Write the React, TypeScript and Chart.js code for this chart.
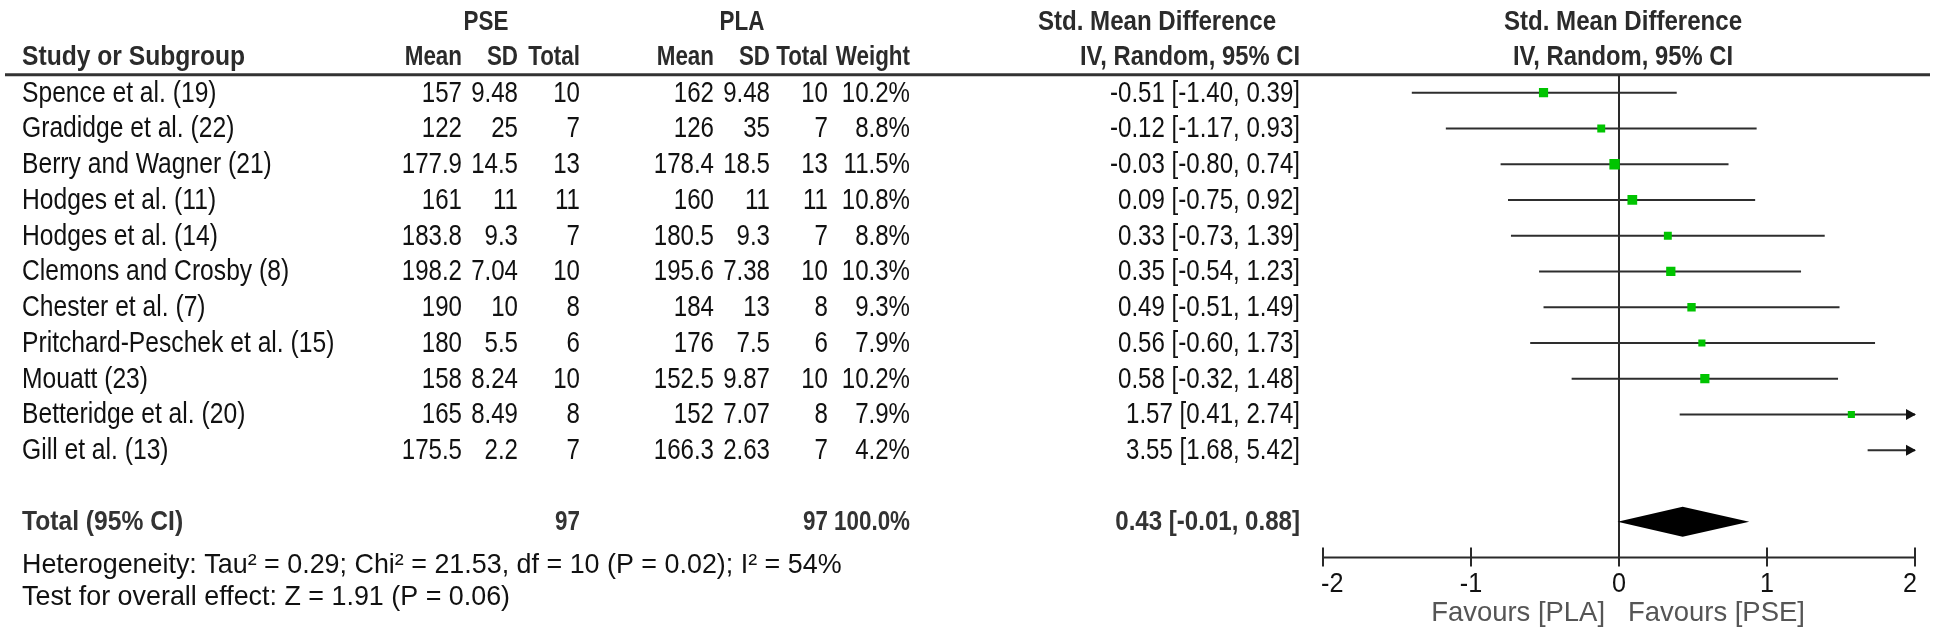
import React, { useEffect, useRef } from "react";
import { Chart, registerables } from "chart.js";

Chart.register(...registerables);

const studies = [
  "Spence et al. (19)",
  "Gradidge et al. (22)",
  "Berry and Wagner (21)",
  "Hodges et al. (11)",
  "Hodges et al. (14)",
  "Clemons and Crosby (8)",
  "Chester et al. (7)",
  "Pritchard-Peschek et al. (15)",
  "Mouatt (23)",
  "Betteridge et al. (20)",
  "Gill et al. (13)",
];
const pseMean = [157, 122, 177.9, 161, 183.8, 198.2, 190, 180, 158, 165, 175.5];
const pseSD = [9.48, 25, 14.5, 11, 9.3, 7.04, 10, 5.5, 8.24, 8.49, 2.2];
const pseTotal = [10, 7, 13, 11, 7, 10, 8, 6, 10, 8, 7];
const plaMean = [162, 126, 178.4, 160, 180.5, 195.6, 184, 176, 152.5, 152, 166.3];
const plaSD = [9.48, 35, 18.5, 11, 9.3, 7.38, 13, 7.5, 9.87, 7.07, 2.63];
const plaTotal = [10, 7, 13, 11, 7, 10, 8, 6, 10, 8, 7];
const weights = [10.2, 8.8, 11.5, 10.8, 8.8, 10.3, 9.3, 7.9, 10.2, 7.9, 4.2];
const smd = [-0.51, -0.12, -0.03, 0.09, 0.33, 0.35, 0.49, 0.56, 0.58, 1.57, 3.55];
const ciLow = [-1.4, -1.17, -0.8, -0.75, -0.73, -0.54, -0.51, -0.6, -0.32, 0.41, 1.68];
const ciHigh = [0.39, 0.93, 0.74, 0.92, 1.39, 1.23, 1.49, 1.73, 1.48, 2.74, 5.42];

const totalPSE = 97;
const totalPLA = 97;
const totalWeight = 100.0;
const totalSMD = 0.43;
const totalLow = -0.01;
const totalHigh = 0.88;

const xTicks = [-2, -1, 0, 1, 2];
const xMin = -2;
const xMax = 2;

const heterogeneityText =
  "Heterogeneity: Tau\u00B2 = 0.29; Chi\u00B2 = 21.53, df = 10 (P = 0.02); I\u00B2 = 54%";
const overallText = "Test for overall effect: Z = 1.91 (P = 0.06)";
const favoursLeft = "Favours [PLA]";
const favoursRight = "Favours [PSE]";

const FONT = '"Liberation Sans", Arial, sans-serif';
const FS = 29;
const SX = 0.83;
const BFS = 28;
const BSX = 0.8;

function fmtCI(m: number, l: number, h: number) {
  return `${m.toFixed(2)} [${l.toFixed(2)}, ${h.toFixed(2)}]`;
}

function txt(
  ctx: CanvasRenderingContext2D,
  s: string,
  x: number,
  y: number,
  align: CanvasTextAlign,
  bold = false,
  color = "#111",
  size = bold ? BFS : FS,
  sx = bold ? BSX : SX
) {
  ctx.save();
  ctx.translate(x, y);
  ctx.scale(sx, 1);
  ctx.font = `${bold ? "bold " : ""}${size}px ${FONT}`;
  ctx.fillStyle = color;
  ctx.textAlign = align;
  ctx.textBaseline = "middle";
  ctx.fillText(s, 0, 0);
  ctx.restore();
}

const forestPlugin = {
  id: "forest",
  beforeDatasetsDraw(chart: any) {
    const ctx: CanvasRenderingContext2D = chart.ctx;
    const xs = chart.scales.x;
    const ys = chart.scales.y;
    const headerY = ys.getPixelForValue(-0.5);
    const axisY = ys.getPixelForValue(13);
    const x0 = xs.getPixelForValue(0);

    ctx.save();
    ctx.strokeStyle = "#333";
    ctx.lineWidth = 3;
    ctx.beginPath();
    ctx.moveTo(5, headerY);
    ctx.lineTo(1930, headerY);
    ctx.stroke();

    ctx.strokeStyle = "#2a2a2a";
    ctx.lineWidth = 2;
    ctx.beginPath();
    ctx.moveTo(x0, headerY);
    ctx.lineTo(x0, axisY);
    ctx.stroke();

    ctx.strokeStyle = "#2e2e2e";
    ctx.fillStyle = "#111";
    ctx.lineWidth = 2;
    for (let i = 0; i < studies.length; i++) {
      const y = ys.getPixelForValue(i);
      const l = Math.max(ciLow[i], xMin);
      const h = Math.min(ciHigh[i], xMax);
      const pl = xs.getPixelForValue(l);
      const ph = xs.getPixelForValue(h);
      ctx.beginPath();
      ctx.moveTo(pl, y);
      ctx.lineTo(ph, y);
      ctx.stroke();
      if (ciHigh[i] > xMax) {
        ctx.beginPath();
        ctx.moveTo(ph + 1, y);
        ctx.lineTo(ph - 9, y - 5.5);
        ctx.lineTo(ph - 9, y + 5.5);
        ctx.closePath();
        ctx.fill();
      }
      if (ciLow[i] < xMin) {
        ctx.beginPath();
        ctx.moveTo(pl - 1, y);
        ctx.lineTo(pl + 9, y - 5.5);
        ctx.lineTo(pl + 9, y + 5.5);
        ctx.closePath();
        ctx.fill();
      }
    }

    const dy = ys.getPixelForValue(12);
    const dh = 15;
    ctx.fillStyle = "#000";
    ctx.beginPath();
    ctx.moveTo(xs.getPixelForValue(totalLow), dy);
    ctx.lineTo(xs.getPixelForValue(totalSMD), dy - dh);
    ctx.lineTo(xs.getPixelForValue(totalHigh), dy);
    ctx.lineTo(xs.getPixelForValue(totalSMD), dy + dh);
    ctx.closePath();
    ctx.fill();

    ctx.strokeStyle = "#2a2a2a";
    ctx.lineWidth = 2;
    ctx.beginPath();
    ctx.moveTo(xs.getPixelForValue(xMin), axisY);
    ctx.lineTo(xs.getPixelForValue(xMax), axisY);
    ctx.stroke();
    for (const t of xTicks) {
      const px = xs.getPixelForValue(t);
      ctx.beginPath();
      ctx.moveTo(px, axisY - 10);
      ctx.lineTo(px, axisY + 9);
      ctx.stroke();
    }
    ctx.restore();
  },
  afterDatasetsDraw(chart: any) {
    const ctx: CanvasRenderingContext2D = chart.ctx;
    const xs = chart.scales.x;
    const ys = chart.scales.y;
    const axisY = ys.getPixelForValue(13);
    const x0 = xs.getPixelForValue(0);

    const cName = 22;
    const cPseMean = 462;
    const cPseSD = 518;
    const cPseTot = 580;
    const cPlaMean = 714;
    const cPlaSD = 770;
    const cPlaTot = 828;
    const cWeight = 910;
    const cCI = 1300;

    const hdr = "#2b2b2b";
    txt(ctx, "PSE", 486, 22, "center", true, hdr);
    txt(ctx, "PLA", 742, 22, "center", true, hdr);
    txt(ctx, "Std. Mean Difference", 1157, 22, "center", true, hdr, BFS, 0.86);
    txt(ctx, "Std. Mean Difference", x0 + 4, 22, "center", true, hdr, BFS, 0.86);
    const h2 = 57;
    txt(ctx, "Study or Subgroup", cName, h2, "left", true, hdr, BFS, 0.88);
    txt(ctx, "Mean", cPseMean, h2, "right", true, hdr);
    txt(ctx, "SD", cPseSD, h2, "right", true, hdr);
    txt(ctx, "Total", cPseTot, h2, "right", true, hdr);
    txt(ctx, "Mean", cPlaMean, h2, "right", true, hdr);
    txt(ctx, "SD", cPlaSD, h2, "right", true, hdr);
    txt(ctx, "Total", cPlaTot, h2, "right", true, hdr);
    txt(ctx, "Weight", cWeight, h2, "right", true, hdr);
    txt(ctx, "IV, Random, 95% CI", cCI, h2, "right", true, hdr, BFS, 0.85);
    txt(ctx, "IV, Random, 95% CI", x0 + 4, h2, "center", true, hdr, BFS, 0.85);

    for (let i = 0; i < studies.length; i++) {
      const y = ys.getPixelForValue(i) + 1;
      txt(ctx, studies[i], cName, y, "left", false, "#111", FS, 0.85);
      txt(ctx, String(pseMean[i]), cPseMean, y, "right");
      txt(ctx, String(pseSD[i]), cPseSD, y, "right");
      txt(ctx, String(pseTotal[i]), cPseTot, y, "right");
      txt(ctx, String(plaMean[i]), cPlaMean, y, "right");
      txt(ctx, String(plaSD[i]), cPlaSD, y, "right");
      txt(ctx, String(plaTotal[i]), cPlaTot, y, "right");
      txt(ctx, weights[i].toFixed(1) + "%", cWeight, y, "right");
      txt(ctx, fmtCI(smd[i], ciLow[i], ciHigh[i]), cCI, y, "right");
    }

    const ty = ys.getPixelForValue(12) + 1;
    const tc = "#333";
    txt(ctx, "Total (95% CI)", cName, ty, "left", true, tc, BFS, 0.88);
    txt(ctx, String(totalPSE), cPseTot, ty, "right", true, tc);
    txt(ctx, String(totalPLA), cPlaTot, ty, "right", true, tc);
    txt(ctx, totalWeight.toFixed(1) + "%", cWeight, ty, "right", true, tc);
    txt(ctx, fmtCI(totalSMD, totalLow, totalHigh), cCI, ty, "right", true, tc, BFS, 0.86);

    txt(ctx, heterogeneityText, cName, 565, "left", false, "#111", 28, 0.96);
    txt(ctx, overallText, cName, 597, "left", false, "#111", 28, 0.96);

    for (const t of xTicks) {
      const px = xs.getPixelForValue(t);
      const align: CanvasTextAlign = t === xMin ? "left" : t === xMax ? "right" : "center";
      const lx = t === xMin ? px - 2 : t === xMax ? px + 2 : px;
      txt(ctx, String(t), lx, axisY + 27, align, false, "#111", 28, 0.9);
    }
    txt(ctx, favoursLeft, x0 - 14, axisY + 56, "right", false, "#555", 28, 0.98);
    txt(ctx, favoursRight, x0 + 9, axisY + 56, "left", false, "#555", 28, 0.98);
  },
};

export default function App() {
  const ref = useRef<HTMLCanvasElement | null>(null);
  useEffect(() => {
    if (!ref.current) return;
    const W = 1946;
    const H = 634;
    const left = 1323;
    const right = W - 1915;
    const rowTop = 92.7;
    const rowGap = 35.75;
    const top = rowTop - 0.5 * rowGap;
    const bottom = H - (rowTop + 13 * rowGap);
    const chart = new Chart(ref.current, {
      type: "scatter",
      data: {
        datasets: [
          {
            data: smd.map((v, i) => ({ x: v, y: i })),
            pointStyle: "rect",
            pointRadius: weights.map((w) => (0.9 * w) / Math.SQRT2),
            pointHoverRadius: weights.map((w) => (0.9 * w) / Math.SQRT2),
            backgroundColor: "#00c400",
            borderColor: "#00c400",
            borderWidth: 0,
          },
        ],
      },
      options: {
        animation: false,
        responsive: false,
        devicePixelRatio: 1,
        layout: { padding: { left, right, top, bottom } },
        plugins: { legend: { display: false }, tooltip: { enabled: false } },
        events: [],
        scales: {
          x: { type: "linear", min: xMin, max: xMax, display: false },
          y: { type: "linear", min: -0.5, max: 13, reverse: true, display: false },
        },
      },
      plugins: [forestPlugin],
    });
    return () => chart.destroy();
  }, []);
  return (
    <div style={{ position: "fixed", left: 0, top: 0, width: 1946, height: 634, background: "#fff" }}>
      <canvas ref={ref} width={1946} height={634} style={{ width: 1946, height: 634, display: "block" }} />
    </div>
  );
}
